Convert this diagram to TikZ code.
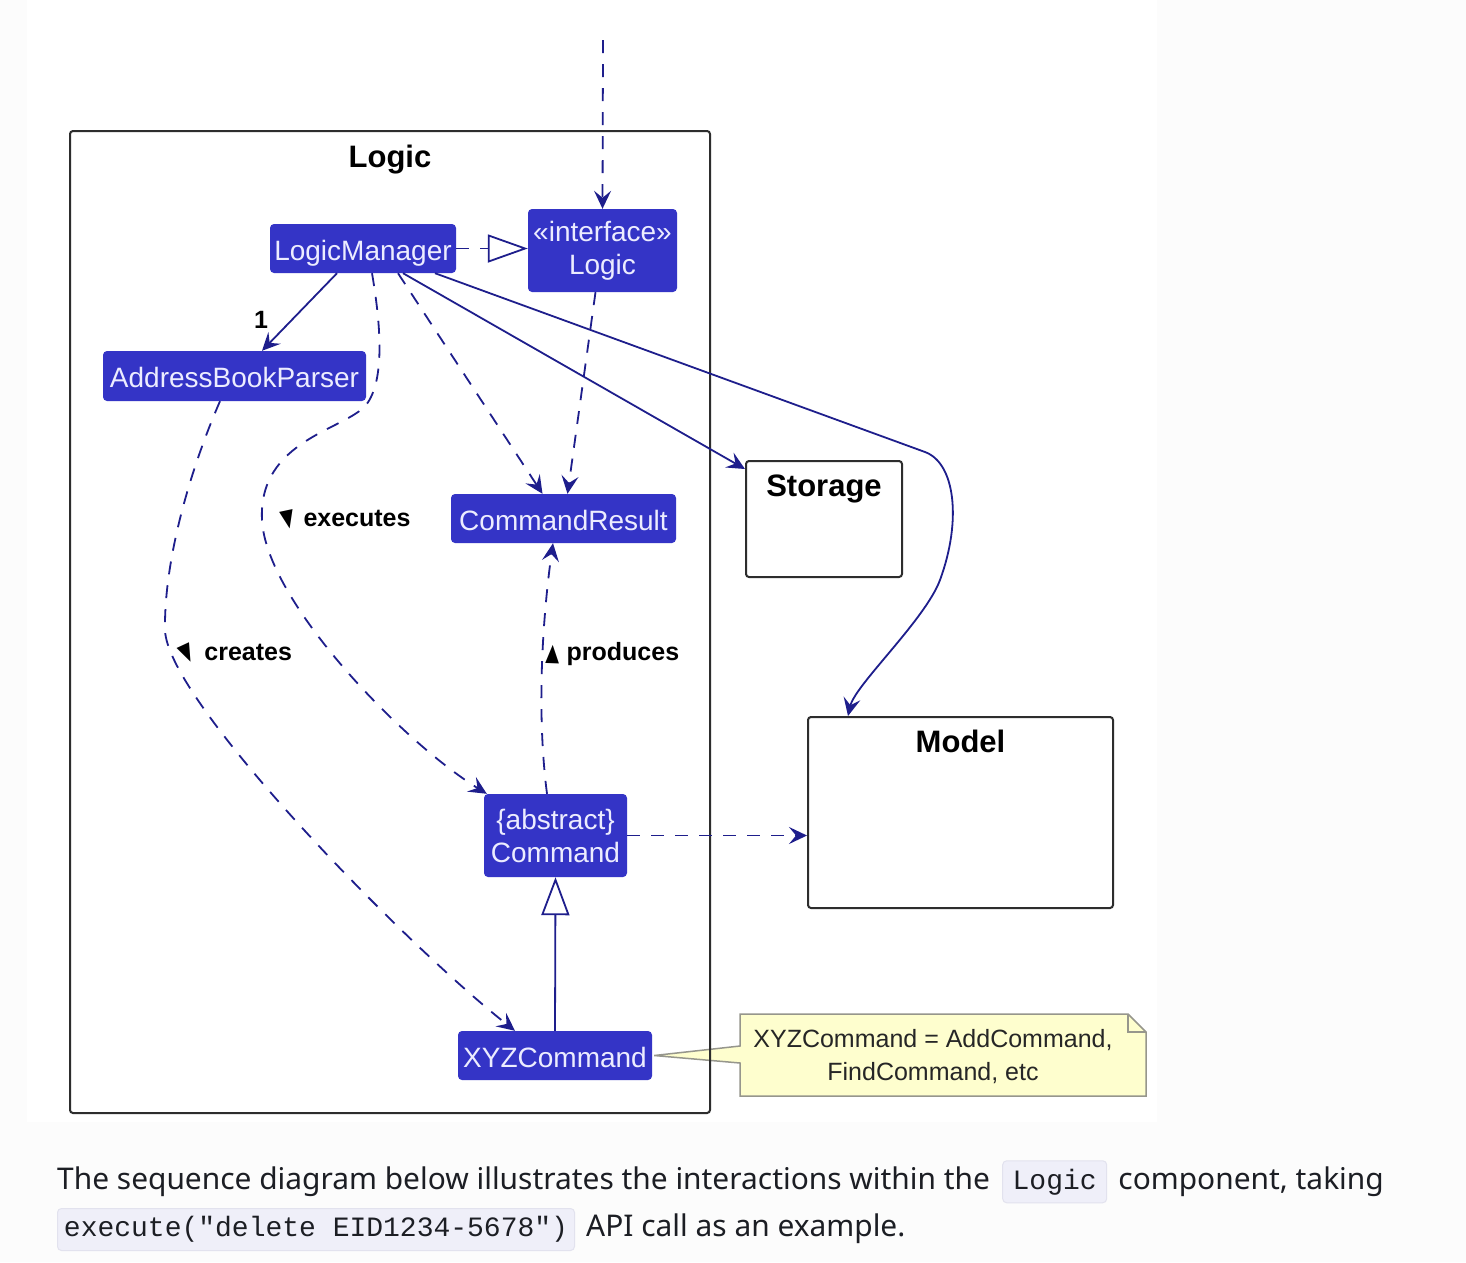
\documentclass[tikz,border=0pt]{standalone}
\usepackage{fontspec}
\usepackage{graphicx}
\usepackage{tikz}
\usetikzlibrary{positioning,calc,arrows.meta}
\newfontfamily\umlfont{Liberation Sans}
\newfontfamily\docfont{Noto Sans}
\newfontfamily\codefont{Liberation Mono}
\newfontfamily\symfont{DejaVu Sans}
\definecolor{pagebg}{RGB}{252,252,252}
\definecolor{umlblue}{RGB}{52,52,198}
\definecolor{umltext}{RGB}{236,236,255}
\definecolor{linkc}{RGB}{30,30,140}
\definecolor{framec}{RGB}{45,45,45}
\definecolor{notefill}{RGB}{254,254,206}
\definecolor{notedraw}{RGB}{150,150,140}
\definecolor{codebg}{RGB}{239,239,249}
\definecolor{codeline}{RGB}{226,226,238}
\definecolor{doctext}{RGB}{28,30,36}
\newcommand{\dirmark}[2]{{\symfont\fontsize{24}{24}\selectfont\rotatebox[origin=c]{#1}{\scalebox{0.75}[1]{#2}}}}
\tikzset{x=1pt,y=-1pt,
>={Stealth[length=18pt,width=17pt,inset=7pt]},
cls/.style={rectangle,rounded corners=4pt,fill=umlblue,text=umltext,
  font=\umlfont\fontsize{28}{33}\selectfont,align=center,inner sep=0pt},
cls1/.style={cls,text height=29pt,text depth=6pt},
pkg/.style={rectangle,rounded corners=3pt,draw=framec,line width=2pt},
ttl/.style={font=\umlfont\bfseries\fontsize{31}{35}\selectfont,inner sep=0pt},
el/.style={font=\umlfont\bfseries\fontsize{25}{29}\selectfont,inner sep=0pt},
link/.style={->,draw=linkc,line width=1.8pt},
dep/.style={link,dash pattern=on 13pt off 11pt},
real/.style={draw=linkc,line width=1.8pt,dash pattern=on 13pt off 11pt,
  -{Triangle[length=40pt,width=28pt,fill=white]}},
gen/.style={draw=linkc,line width=1.8pt,-{Triangle[length=38pt,width=28pt,fill=white]}},
notetxt/.style={font=\umlfont\fontsize{25}{33}\selectfont,align=center,text=black!85,inner sep=0pt},
doc/.style={font=\docfont\fontsize{29.9}{36}\selectfont,text=doctext,inner sep=0pt},
code/.style={rectangle,rounded corners=4pt,fill=codebg,draw=codeline,line width=1pt,
  font=\codefont\fontsize{28}{34}\selectfont,text=doctext,inner sep=0pt},
}
\begin{document}
\begin{tikzpicture}
	\useasboundingbox (0,0) rectangle (1466,1262);
	\fill[pagebg] (0,0) rectangle (1466,1262);
	\fill[white] (27,0) rectangle (1157,1122);

	% classes
	\node[cls1,minimum width=186,minimum height=49] (lm) at (363,248.5) {LogicManager};
	\node[cls,minimum width=149,minimum height=83] (ilogic) at (602.5,250.5) {«interface»\\Logic};
	\node[cls1,minimum width=263,minimum height=50] (abp) at (234.5,376) {AddressBookParser};
	\node[cls1,minimum width=225,minimum height=49] (cr) at (563.5,518.5) {CommandResult};
	\node[cls,minimum width=143,minimum height=83] (cmd) at (555.5,835.5) {\{abstract\}\\Command};
	\node[cls1,minimum width=194,minimum height=49] (xyz) at (555,1055.5) {XYZCommand};

	% other components
	\node[pkg,minimum width=156,minimum height=116] (storage) at (824,519) {};
	\node[ttl,below=15pt of storage.north] (storagettl) {Storage};
	\node[pkg,minimum width=305,minimum height=191] (model) at (960.5,812.5) {};
	\node[ttl,below=14pt of model.north] (modelttl) {Model};

	% note
	\draw[notedraw,fill=notefill,line width=1.5pt] (740,1014) -- (1128,1014) -- (1146,1032)
		-- (1146,1096) -- (740,1096) -- (740,1063) -- ([xshift=2pt]xyz.east) -- (740,1046) -- cycle;
	\draw[notedraw,line width=1.5pt] (1128,1014) -- (1128,1032) -- (1146,1032);
	\node[notetxt] (note) at (933,1057) {XYZCommand = AddCommand,\\FindCommand, etc};

	% package frame
	\node[pkg,minimum width=640,minimum height=982] (logic) at (390,622) {};
	\node[ttl,below=15pt of logic.north] (logicttl) {Logic};

	\coordinate (entry) at (603,40);

	\draw[dep] (entry) -- (ilogic.north);
	\draw[real] (lm.east) -- (ilogic.west |- lm.east);
	\draw[link] ([xshift=-26pt]lm.south) -- node[el,pos=0.6,xshift=-31pt] (one) {1} ([xshift=27.5pt]abp.north);
	\draw[dep] ([xshift=9pt]lm.south) .. controls (380,320) and (386,380) .. (366,405)
		.. controls (345,430) and (258,440) .. (262,520)
		.. controls (266,600) and (400,740) .. ([xshift=3pt]cmd.north west);
	\draw[dep] ([xshift=35pt]lm.south) -- ([xshift=-21pt]cr.north);
	\draw[dep] ([xshift=-7pt]ilogic.south) -- ([xshift=4pt]cr.north);
	\draw[link] ([xshift=40pt]lm.south) -- ([yshift=-9pt]storage.north west);
	\draw[link] ([xshift=72pt]lm.south) -- (925,452) .. controls (955,463) and (962,520) .. (940,580)
		.. controls (925,620) and (855,685) .. ([xshift=-112.5pt]model.north);
	\draw[dep] ([xshift=-14.5pt]abp.south) .. controls (190,470) and (164,560) .. (165,630)
		.. controls (167,700) and (400,940) .. ([xshift=-40pt]xyz.north);
	\draw[dep] ([xshift=-8.5pt]cmd.north) .. controls (535,700) and (545,600) .. ([xshift=-10.5pt]cr.south);
	\draw[dep] (cmd.east) -- (cmd.east -| model.west);
	\draw[gen] (xyz.north) -- (cmd.south);

	% edge labels
	\node[el,anchor=west] (lblexec) at (279,520) {\dirmark{12}{▼}\ executes};
	\node[el,anchor=west] (lblcreate) at (177,654) {\dirmark{25}{▼}\ creates};
	\node[el,anchor=west] (lblprod) at (545,654) {\dirmark{-2}{▲}\ produces};

	% text below
	\node[doc,anchor=base west] (para1) at (57,1189) {The sequence diagram below illustrates the interactions within the};
	\node[code,minimum width=104,minimum height=42,base right=12pt of para1] (codelogic) {Logic};
	\node[doc,base right=11pt of codelogic] (para2) {component, taking};
	\node[code,minimum width=517,minimum height=42,anchor=west] (codeexec) at (57,1229.5) {execute("delete EID1234-5678")};
	\node[doc,base right=11pt of codeexec] (para3) {API call as an example.};
\end{tikzpicture}
\end{document}
